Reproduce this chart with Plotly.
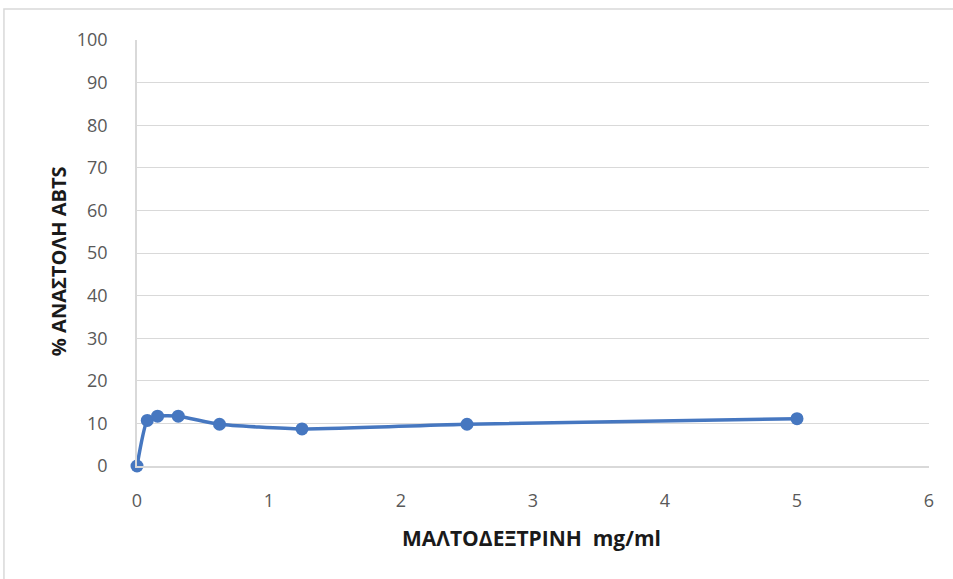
import plotly.graph_objects as go

# Maltodextrin concentration (mg/ml) and ABTS inhibition (%)
conc_mg_ml = [0, 0.078, 0.156, 0.3125, 0.625, 1.25, 2.5, 5]
inhibition_pct = [0, 10.7, 11.7, 11.7, 9.8, 8.7, 9.8, 11.1]

x_ticks = [0, 1, 2, 3, 4, 5, 6]
y_ticks = [0, 10, 20, 30, 40, 50, 60, 70, 80, 90, 100]

x_title = "ΜΑΛΤΟΔΕΞΤΡΙΝΗ  mg/ml"
y_title = "% ΑΝΑΣΤΟΛΗ ABTS"

line_color = "#4677C0"
tick_font = dict(family="Open Sans, Liberation Sans, sans-serif", size=18, color="#595959")
title_font = dict(family="Open Sans, Liberation Sans, sans-serif", size=20, color="#1a1a1a")

fig = go.Figure()
fig.add_trace(go.Scatter(
    x=conc_mg_ml,
    y=inhibition_pct,
    mode="lines+markers",
    line=dict(color=line_color, width=3.5, shape="spline", smoothing=0.5),
    marker=dict(color=line_color, size=13),
    cliponaxis=False,
    showlegend=False,
    hoverinfo="x+y",
))

fig.update_layout(
    width=953,
    height=579,
    margin=dict(l=137, r=24, t=40, b=113),
    paper_bgcolor="white",
    plot_bgcolor="white",
    xaxis=dict(
        range=[0, 6],
        tickvals=x_ticks,
        showgrid=False,
        zeroline=False,
        showline=True,
        linecolor="#d9d9d9",
        linewidth=1.5,
        ticks="",
        ticklabelstandoff=18,
        tickfont=tick_font,
    ),
    yaxis=dict(
        range=[0, 100],
        tickvals=y_ticks,
        showgrid=True,
        gridcolor="#d9d9d9",
        gridwidth=1,
        zeroline=False,
        showline=True,
        linecolor="#d9d9d9",
        linewidth=1.5,
        ticks="",
        ticklabelstandoff=24,
        tickfont=tick_font,
    ),
    annotations=[
        dict(text="<b>" + x_title + "</b>", xref="paper", yref="paper",
             x=0.4987, y=-0.169, xanchor="center", yanchor="middle",
             showarrow=False, font=dict(title_font, size=21)),
        dict(text="<b>" + y_title + "</b>", xref="paper", yref="paper",
             x=-0.0997, y=0.481, xanchor="center", yanchor="middle",
             textangle=-90, showarrow=False, font=title_font),
    ],
    shapes=[
        dict(type="rect", xref="paper", yref="paper",
             x0=-0.168, x1=1.05, y0=-0.3, y1=1.0728,
             line=dict(color="#d9d9d9", width=1.5), fillcolor="rgba(0,0,0,0)",
             layer="below"),
    ],
)

fig.write_html("out.html")
